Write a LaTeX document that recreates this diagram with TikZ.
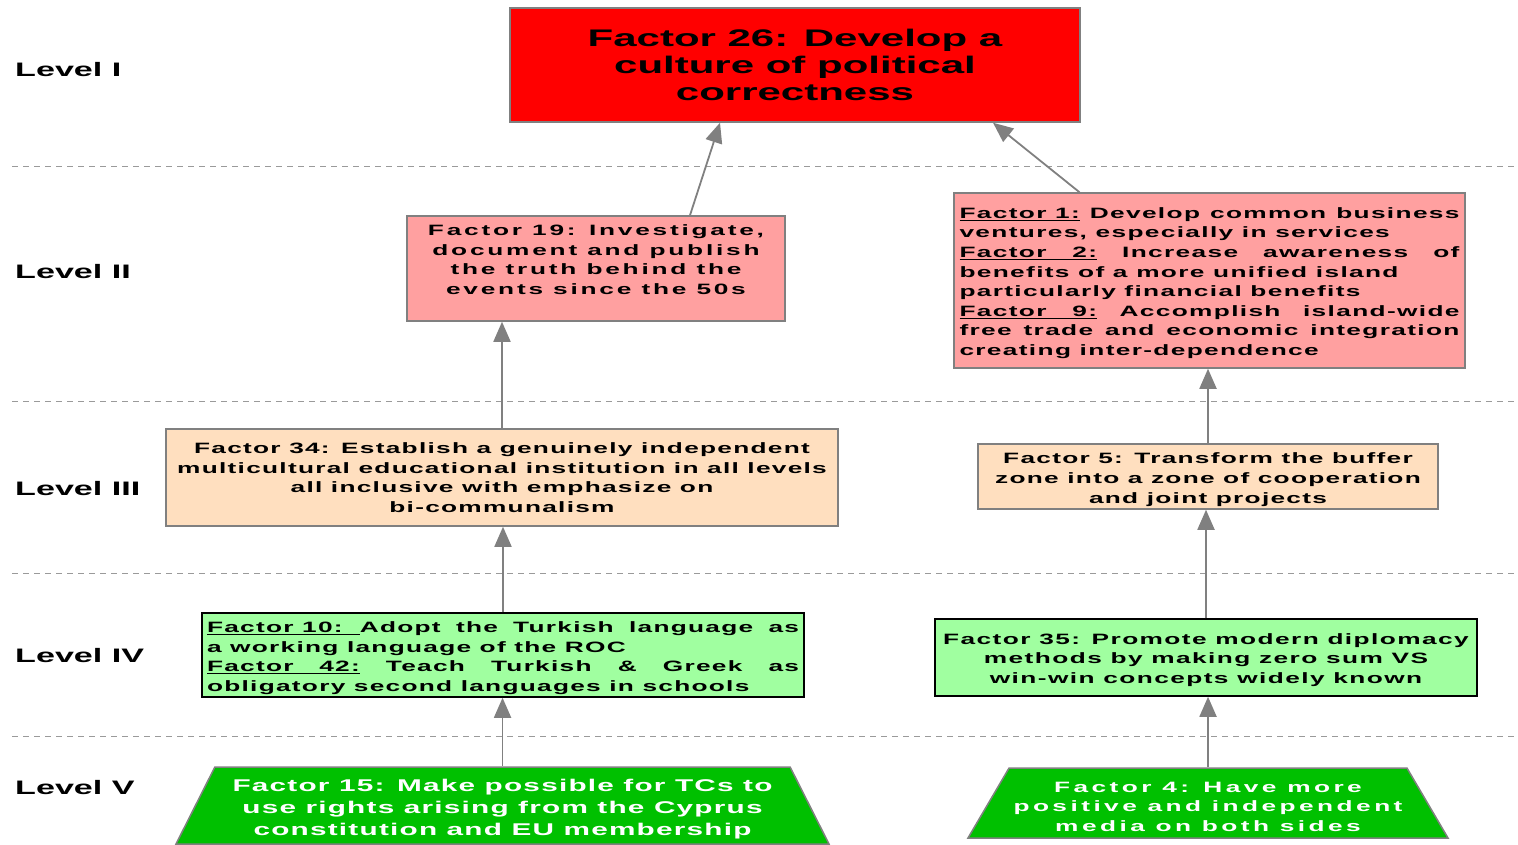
\documentclass[tikz,border=0pt]{standalone}
\usepackage{fontspec}
\setmainfont{Liberation Sans}[FakeStretch=1.75]
\usetikzlibrary{arrows.meta,shapes.geometric}

\definecolor{factorred}{HTML}{FF0000}
\definecolor{factorpink}{HTML}{FFA0A0}
\definecolor{factorpeach}{HTML}{FFDFBF}
\definecolor{factormint}{HTML}{A0FFA0}
\definecolor{factorgreen}{HTML}{00C000}
\definecolor{edgegray}{HTML}{808080}

\newcommand{\fref}[1]{\underline{#1}}
% struts to move a text block down (first line) or up (last line)
\newcommand{\toppad}[1]{\rule{0pt}{#1}}
\newcommand{\botpad}[1]{\rule[-#1]{0pt}{#1}}

\tikzset{
  factor/.style={draw=edgegray, line width=1.5pt, inner sep=2pt, align=center},
  spaced/.style={font=\bfseries\fontsize{15}{19.6}\selectfont\addfontfeatures{LetterSpace=#1}},
  levellabel/.style={anchor=west, inner sep=0pt, font=\bfseries\fontsize{19.5}{24}\selectfont},
  levelline/.style={edgegray!80, line width=1pt, dash pattern=on 6pt off 5pt},
  link/.style={edgegray, line width=1.8pt, -{Triangle[length=20pt,width=17pt]}},
  base/.style={trapezium, trapezium stretches body, fill=factorgreen, draw=edgegray, line width=1.5pt, text=white, inner sep=2pt, align=center}
}

\begin{document}
\begin{tikzpicture}[x=1pt,y=-1pt]
        \useasboundingbox (0,0) rectangle (1518,844);

        % Level separators
        \foreach \y in {166,401,573,736}
          \draw[levelline] (12,\y) -- (1518,\y);

        % Level labels
        \node[levellabel] (lv1) at (15,70) {Level I};
        \node[levellabel] (lv2) at (15,272) {Level II};
        \node[levellabel] (lv3) at (15,489) {Level III};
        \node[levellabel] (lv4) at (15,656) {Level IV};
        \node[levellabel] (lv5) at (15,788) {Level V};

        % Level I
        \node[factor, fill=factorred, minimum width=570, minimum height=114,
          font=\bfseries\fontsize{24}{27}\selectfont] (f26) at (795,65)
          {Factor 26: Develop a\\culture of political\\correctness};

        % Level II
        \node[factor, fill=factorpink, minimum width=378, minimum height=105, spaced=18.5] (f19) at (596,268.5)
          {Factor 19: Investigate,\\document and publish\\the truth behind the\\events since the 50s\botpad{18pt}};
        \node[factor, fill=factorpink, minimum width=511, minimum height=175, align=left, spaced=9] (f129) at (1209.5,280.5)
          {\toppad{16pt}\makebox[500pt][s]{\fref{Factor 1:} Develop common business}\\
           ventures, especially in services\\
           \makebox[500pt][s]{\fref{Factor\ \ \ 2:} Increase awareness of}\\
           benefits of a more unified island\\
           particularly financial benefits\\
           \makebox[500pt][s]{\fref{Factor\ \ \ 9:} Accomplish island-wide}\\
           \makebox[500pt][s]{free trade and economic integration}\\
           creating inter-dependence};

        % Level III
        \node[factor, fill=factorpeach, minimum width=672, minimum height=97, spaced=8.5] (f34) at (502,477.5)
          {Factor 34: Establish a genuinely independent\\multicultural educational institution in all levels\\all inclusive with emphasize on\\bi-communalism};
        \node[factor, fill=factorpeach, minimum width=460, minimum height=65, spaced=8.5] (f5) at (1208,476.5)
          {\toppad{17pt}Factor 5: Transform the buffer\\zone into a zone of cooperation\\and joint projects};

        % Level IV
        \node[factor, draw=black, fill=factormint, minimum width=602, minimum height=84, align=left, spaced=8.5] (f1042) at (503,655)
          {\toppad{17pt}\makebox[592pt][s]{\fref{Factor 10:\ \ }Adopt the Turkish language as}\\
           a working language of the ROC\\
           \makebox[592pt][s]{\fref{Factor\ \ \ 42:} Teach Turkish \& Greek as}\\
           obligatory second languages in schools};
        \node[factor, draw=black, fill=factormint, minimum width=542, minimum height=77, spaced=9.5] (f35) at (1206,657.5)
          {\toppad{16pt}Factor 35: Promote modern diplomacy\\methods by making zero sum VS\\win-win concepts widely known};

        % Level V
        \node[base, minimum width=653, minimum height=77, trapezium left angle=61.6, trapezium right angle=61.6,
          font=\bfseries\fontsize{17}{22}\selectfont\addfontfeatures{LetterSpace=7.2}] (f15) at (502.5,805.5)
          {\toppad{20.4pt}Factor 15: Make possible for TCs to\\use rights arising from the Cyprus\\constitution and EU membership};
        \node[base, minimum width=480, minimum height=70, trapezium left angle=56.2, trapezium right angle=56.2, spaced=23] (f4) at (1208,803)
          {\toppad{18pt}Factor 4: Have more\\positive and independent\\media on both sides};

        % Influence arrows
        \draw[link] ([xshift=94]f19.north) -- ([xshift=-75]f26.south);
        \draw[link] ([xshift=-130]f129.north) -- ([xshift=198]f26.south);
        \draw[link] (f34.north) -- (f34.north |- f19.south);
        \draw[link] (f5.north) -- (f5.north |- f129.south);
        \draw[link] (f1042.north) -- (f1042.north |- f34.south);
        \draw[link] (f35.north) -- (f35.north |- f5.south);
        \draw[link] (f15.north) -- (f15.north |- f1042.south);
        \draw[link] (f4.north) -- (f4.north |- f35.south);
\end{tikzpicture}
\end{document}
